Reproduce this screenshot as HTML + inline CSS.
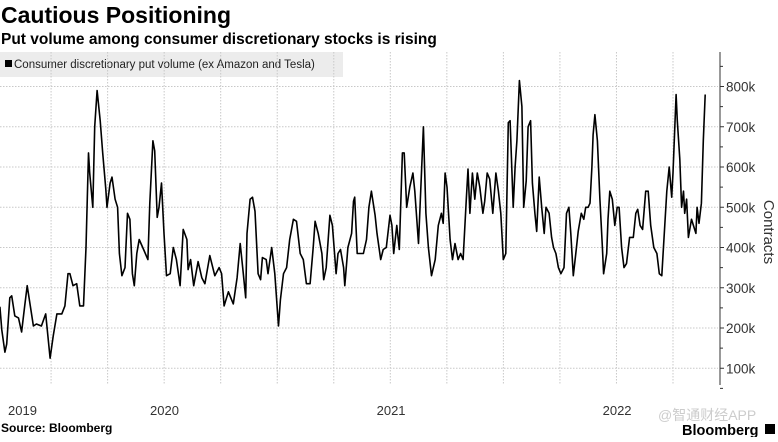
<!DOCTYPE html>
<html><head><meta charset="utf-8"><style>
body{margin:0;background:#fff;width:778px;height:437px;overflow:hidden;font-family:"Liberation Sans","Noto Sans CJK SC",sans-serif}
</style></head><body>
<svg width="778" height="437" font-family="Liberation Sans, Noto Sans CJK SC, sans-serif">
<text x="1" y="23" font-size="23" font-weight="bold" fill="#000">Cautious Positioning</text>
<text x="1" y="44" font-size="15.5" font-weight="bold" fill="#000">Put volume among consumer discretionary stocks is rising</text>
<rect x="0" y="52" width="343" height="25" fill="#ececec"/>
<rect x="5" y="60" width="7" height="7" fill="#000"/>
<text x="14" y="68" font-size="11.5" fill="#222">Consumer discretionary put volume (ex Amazon and Tesla)</text>
<g id="grid"></g>
<g id="axis"></g>
<path id="line" fill="none" stroke="#000" stroke-width="1.6" stroke-linejoin="round"/>
<text transform="translate(764,232) rotate(90)" text-anchor="middle" font-size="15" fill="#333">Contracts</text>
<text x="1" y="432" font-size="12" font-weight="bold" fill="#000">Source: Bloomberg</text>
<text x="658" y="420" font-size="14" fill="#ccc">@智通财经APP</text>
<text x="682" y="435" font-size="14.5" font-weight="bold" fill="#000">Bloomberg</text>
<rect x="765" y="424" width="10" height="10" fill="#000"/>
</svg>
<script>
const yTicks=[100,200,300,400,500,600,700,800];
const yearLabels=["2019","2020","2021","2022"];
const yearDays=[0,365,731,1096];
// days since 2019-01-01
const days=[100,103,108,111,116,119,124,130,135,140,144,149,154,159,167,174,181,186,192,200,205,210,213,218,224,229,235,239,243,245,250,253,257,262,266,271,273,278,281,286,290,293,297,302,306,310,314,317,321,325,332,339,342,347,350,354,357,361,365,369,375,380,385,391,396,402,404,408,413,420,426,431,439,447,454,458,462,469,477,483,488,493,497,499,504,508,512,517,521,524,530,533,539,544,550,553,558,563,568,574,579,585,590,595,601,606,609,614,620,623,627,633,637,643,646,650,655,657,662,668,671,673,677,681,687,692,696,700,706,709,715,719,724,730,733,736,741,745,750,753,757,762,767,770,776,784,788,792,797,803,808,813,816,819,822,827,831,835,840,844,848,853,856,859,863,867,871,875,880,883,887,891,896,901,905,909,913,917,921,924,929,932,935,939,943,946,950,953,957,960,964,967,971,975,979,982,987,991,994,998,1002,1006,1011,1015,1019,1022,1026,1030,1034,1039,1043,1046,1050,1053,1056,1058,1061,1065,1069,1073,1075,1080,1082,1085,1089,1093,1097,1100,1104,1108,1112,1117,1123,1127,1130,1134,1138,1143,1147,1151,1156,1161,1165,1169,1171,1177,1181,1185,1187,1192,1194,1198,1201,1204,1206,1209,1212,1217,1220,1224,1226,1229,1233,1236,1239];
const volume=[253,195,140,160,275,280,230,225,190,255,305,255,205,210,205,235,125,180,235,235,255,335,335,305,310,255,255,400,635,585,500,700,790,715,635,545,500,560,575,520,500,385,330,350,485,470,335,305,385,420,395,370,510,665,640,475,500,560,435,330,335,400,370,305,445,420,345,370,305,365,325,310,380,330,350,335,255,290,260,325,410,335,275,435,520,525,490,335,320,375,370,335,400,335,205,270,335,350,420,470,465,385,370,310,310,400,465,435,385,320,350,480,455,335,385,395,350,305,400,435,515,525,385,385,385,420,500,540,480,435,370,395,400,480,455,385,455,395,635,635,500,550,585,540,410,700,485,400,330,370,455,485,460,585,550,420,370,410,370,385,370,515,595,485,585,520,585,550,485,515,585,570,485,585,540,485,370,385,710,715,500,600,665,815,750,500,565,700,715,560,485,440,575,500,435,500,485,425,400,385,350,335,350,485,500,435,330,385,440,485,470,500,500,510,600,680,730,665,520,400,335,385,470,540,520,455,500,500,400,350,360,425,425,485,495,455,445,540,540,455,400,385,335,330,385,540,600,525,585,780,715,620,500,540,485,520,425,470,455,435,500,460,510,665,780];
const NS="http://www.w3.org/2000/svg";
const X0=-62,PX_PER_DAY=226/365,Y800=86.5,PX_PER_K=0.4025,PLOT_R=718,TOP=52,BOT=385;
function xs(d){return X0+d*PX_PER_DAY;}
function ys(v){return Y800+(800-v)*PX_PER_K;}
const grid=document.getElementById('grid'),axis=document.getElementById('axis');
function mk(tag,attrs,parent){const e=document.createElementNS(NS,tag);for(const k in attrs)e.setAttribute(k,attrs[k]);parent.appendChild(e);return e;}
yTicks.forEach(v=>{
  const g=mk('line',{x1:0,x2:PLOT_R,y1:ys(v),y2:ys(v),stroke:'#c8c8c8','stroke-dasharray':'1.5,1.5'},grid);
  
  
  const t=mk('line',{x1:720,x2:724,y1:ys(v),y2:ys(v),stroke:'#333'},axis);
  
  
  const l=mk('text',{x:726,y:ys(v)+5,'font-size':13.5,fill:'#333'},axis);
  l.textContent=v+'k';
  
  
});
for(let v=50;v<=850;v+=100){
  const t=mk('line',{x1:720,x2:723,y1:ys(v),y2:ys(v),stroke:'#333'},axis);
  
  
}
for(let q=1;q<20;q++){
  const x=xs(q*365.25/4);if(x>PLOT_R)break;if(x<0)continue;
  const g=mk('line',{x1:x,x2:x,y1:TOP,y2:BOT,stroke:'#c8c8c8','stroke-dasharray':'1.5,1.5'},grid);
  
  
}
yearLabels.forEach((s,i)=>{
  const x=xs(yearDays[i]);
  const t=mk('text',{x:Math.max(8,x-14),y:415,'font-size':13,fill:'#333'},axis);
  t.textContent=s;
  
  
});
const ax=mk('line',{x1:720,x2:720,y1:TOP,y2:BOT,stroke:'#333'},axis);


let d='';
days.forEach((dd,i)=>{d+=(i?'L':'M')+xs(dd).toFixed(1)+','+ys(volume[i]).toFixed(1);});
document.getElementById('line').setAttribute('d',d);
</script>
</body></html>
